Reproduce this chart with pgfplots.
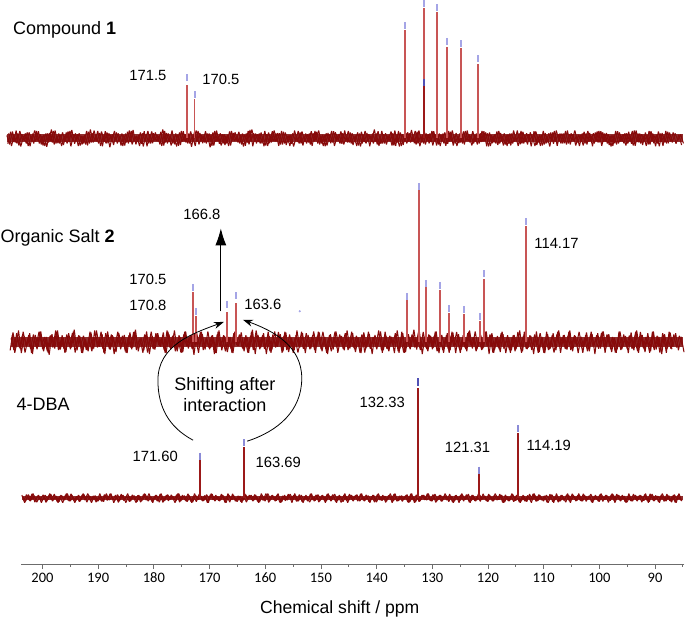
\documentclass[border=0pt]{standalone}
\usepackage{pgfplots}
\pgfplotsset{compat=1.18}
\usepackage{pgfplotstable}
\usepackage{fontspec}
\setmainfont{Liberation Sans}
\newfontfamily\tickfont{Carlito}
\usetikzlibrary{arrows.meta}

\definecolor{noisered}{RGB}{135,10,10}
\definecolor{peakred}{RGB}{200,85,85}
\definecolor{peakdark}{RGB}{155,25,25}
\definecolor{lav}{RGB}{165,165,230}
\definecolor{lavdark}{RGB}{80,80,180}

% baseline noise offsets (pt)
\pgfplotstableread{
a b c
3 -9 2
-6 11 -3
7 -6 1
-4 13 -2
5 -12 3
-8 7 -1
2 -4 2
-5 10 -3
6 -13 1
-3 8 -2
8 -5 3
-2 12 -2
4 -10 1
-7 6 -3
5 -14 2
-4 9 -1
9 -7 3
-6 13 -2
2 -8 2
-5 5 -3
6 -11 1
-3 10 -2
7 -6 3
-8 14 -1
4 -9 2
-2 7 -3
5 -12 1
-6 4 -2
3 -10 3
-7 11 -2
9 -7 2
-4 13 -1
2 -5 3
-5 9 -3
7 -13 1
-3 12 -2
6 -8 2
-9 6 -1
4 -11 3
-2 10 -2
5 -4 1
-7 8 -3
3 -12 2
-4 11 -2
8 -6 3
-6 14 -1
2 -10 1
-3 5 -3
6 -9 2
-8 12 -1
4 -13 3
-5 7 -2
7 -8 2
-2 10 -1
3 -5 1
-6 11 -3
9 -12 3
-4 9 -2
5 -6 1
-7 13 -2
2 -10 2
-8 6 -3
6 -11 3
-3 12 -1
4 -7 2
-5 8 -2
7 -14 1
-2 10 -3
8 -5 3
-6 9 -1
3 -8 1
-4 12 -2
5 -6 2
-9 5 -3
6 -12 3
-3 13 -1
2 -9 2
-7 7 -2
4 -11 1
-5 6 -3
7 -12 3
-2 9 -1
6 -4 1
-4 11 -2
3 -10 2
-8 6 -3
5 -7 3
-6 14 -1
9 -13 2
-3 8 -2
4 -6 2
-5 10 -2
2 -13 3
-7 7 -3
6 -8 1
-4 12 -1
8 -5 2
-3 9 -3
5 -10 3
-6 11 -2
6 -11 1
-4 5 -3
3 -9 2
-8 13 -1
2 -6 3
-5 10 -2
7 -12 1
-3 8 -2
4 -7 2
-6 12 -3
5 -5 3
-2 11 -2
8 -10 1
-5 6 -3
3 -13 2
-7 9 -1
4 -8 3
-4 12 -3
6 -4 1
-2 7 -2
7 -9 2
-6 13 -1
2 -7 3
-4 10 -2
5 -11 1
-3 5 -3
6 -12 2
-8 11 -2
3 -6 3
-5 9 -1
4 -13 1
-3 8 -2
9 -5 2
-6 12 -3
2 -9 3
-5 7 -2
5 -10 1
-2 6 -1
7 -12 2
-7 13 -3
3 -7 3
-8 10 -3
4 -11 1
-3 9 -2
6 -5 2
-4 14 -1
2 -8 3
-6 11 -2
8 -13 1
-4 6 -2
6 -10 2
-2 7 -2
5 -6 3
-7 12 -1
4 -12 1
-6 8 -3
3 -4 2
-5 10 -3
5 -9 3
-3 11 -1
8 -12 1
-5 9 -3
2 -8 2
-4 6 -2
7 -10 3
-2 13 -1
4 -7 1
-7 12 -2
3 -5 2
-6 8 -2
5 -6 3
-3 12 -1
6 -13 2
-8 10 -3
3 -8 1
-4 7 -2
7 -11 3
-5 9 -1
2 -12 2
-6 5 -3
4 -9 2
-7 8 -2
8 -5 1
-3 13 -3
5 -10 3
-5 11 -2
3 -6 2
-6 7 -1
6 -13 1
-2 12 -3
7 -11 1
-4 6 -3
3 -12 3
-6 9 -2
2 -7 2
-8 10 -1
6 -9 3
-3 13 -3
4 -4 2
-5 8 -2
5 -8 3
-6 13 -2
4 -10 2
-2 7 -1
8 -12 1
-4 6 -3
3 -5 2
-7 11 -2
5 -10 3
-3 9 -1
2 -13 2
-5 10 -1
7 -7 3
-4 12 -3
6 -6 2
-3 9 -2
4 -11 1
-8 5 -3
3 -8 3
-6 12 -2
6 -5 1
-3 7 -2
5 -12 2
-5 11 -1
2 -9 3
-7 13 -3
8 -6 2
-4 8 -2
4 -11 1
-2 10 -3
3 -10 3
-6 12 -1
5 -8 1
-8 6 -2
7 -13 2
-3 9 -3
2 -7 3
-5 11 -2
6 -5 0
-4 10 0
5 -9 0
-2 6 0
4 -11 0
-5 0 0
}\noise

\begin{document}
\begin{tikzpicture}
\begin{axis}[
  scale only axis, width=664pt, height=564pt,
  xmin=84.71, xmax=203.86, ymin=0, ymax=564,
  x dir=reverse,
  axis x line=bottom, axis y line=none,
  x axis line style={-, draw=gray!85!black, line width=1pt},
  xtick={90,100,...,200}, minor xtick={85,95,...,195},
  tick align=outside, major tick length=5pt, minor tick length=2.5pt,
  every tick/.style={gray!85!black, line width=0.8pt},
  xticklabel style={font=\tickfont\fontsize{14.5}{16}\selectfont, text=black},
  /pgf/number format/assume math mode=true,
  clip=false, unbounded coords=jump,
  noise/.style={noisered, line width=1.05pt, line join=bevel},
  core/.style={fill=noisered!92!black, draw=none, fill opacity=0.85},
]
% bounding frame
\path (axis cs:207.63,564) rectangle (axis cs:84.71,-54);

% ---------- Compound 1 (baseline 426)
\addplot[core] coordinates {(206.3,422) (84.9,422) (84.9,430) (206.3,430)} --cycle;
\addplot[noise] table[x expr={206.4-0.5*\coordindex}, y expr={\thisrow{a}+426}] {\noise};
\addplot[noise, skip coords between index={243}{244}] table[x expr={206.23-0.5*\coordindex}, y expr={0.6*\thisrow{b}+426}] {\noise};
\addplot[noise, skip coords between index={238}{244}] table[x expr={206.07-0.5*\coordindex}, y expr={2.5*\thisrow{c}+426}] {\noise};
\addplot[peakred, line width=1.8pt] coordinates {
 (174.02,426) (174.02,479) (174.02,nan)
 (172.69,426) (172.69,465) (172.69,nan)
 (134.83,426) (134.83,534) (134.83,nan)
 (131.55,426) (131.55,556) (131.55,nan)
 (129.09,426) (129.09,552) (129.09,nan)
 (127.36,426) (127.36,517) (127.36,nan)
 (124.78,426) (124.78,516) (124.78,nan)
 (121.86,426) (121.86,500)};
\addplot[peakdark, line width=1.8pt] coordinates {(131.55,426) (131.55,478)};
\addplot[only marks, mark=|, mark size=3.5pt, lav, mark options={line width=2pt}] coordinates {
 (174.02,486.5) (172.69,469.5) (134.83,538.5) (131.55,561) (129.09,557) (127.36,523) (124.78,520.5) (121.86,505.5)};
\addplot[only marks, mark=|, mark size=3.5pt, lavdark, mark options={line width=2pt}] coordinates {(131.55,482)};

% ---------- Organic salt 2 (baseline 222)
\addplot[core] coordinates {(205.7,217) (84.9,217) (84.9,227) (205.7,227)} --cycle;
\addplot[noise, skip coords between index={243}{244}] table[x expr={205.8-0.5*\coordindex}, y expr={0.9*\thisrow{b}+222}] {\noise};
\addplot[noise, skip coords between index={242}{244}] table[x expr={205.63-0.5*\coordindex}, y expr={1.3*\thisrow{a}+222}] {\noise};
\addplot[noise, skip coords between index={238}{244}] table[x expr={205.47-0.5*\coordindex}, y expr={3.5*\thisrow{c}+222}] {\noise};
\addplot[peakred, line width=1.8pt] coordinates {
 (172.94,222) (172.94,272) (172.94,nan)
 (172.46,222) (172.46,248) (172.46,nan)
 (166.89,222) (166.89,252) (166.89,nan)
 (165.28,222) (165.28,261) (165.28,nan)
 (134.54,222) (134.54,264) (134.54,nan)
 (132.32,222) (132.32,374) (132.32,nan)
 (131.06,222) (131.06,277) (131.06,nan)
 (128.67,222) (128.67,274) (128.67,nan)
 (126.93,222) (126.93,251) (126.93,nan)
 (124.36,222) (124.36,250) (124.36,nan)
 (121.37,222) (121.37,243) (121.37,nan)
 (120.65,222) (120.65,285) (120.65,nan)
 (113.19,222) (113.19,338)};
\addplot[only marks, mark=|, mark size=3.5pt, lav, mark options={line width=2pt}] coordinates {
 (172.94,277) (172.46,253) (166.89,260) (165.28,268.5) (134.54,268) (132.32,378) (131.06,281)
 (128.67,279) (126.93,256) (124.36,255) (121.37,248) (120.65,291) (113.19,342.5)};
\addplot[only marks, mark=*, mark size=0.8pt, lav] coordinates {(153.8,253)};

% ---------- 4-DBA (baseline 66)
\addplot[core] coordinates {(203.6,64) (84.9,64) (84.9,68) (203.6,68)} --cycle;
\addplot[noise, skip coords between index={238}{244}] table[x expr={203.7-0.5*\coordindex}, y expr={1.5*\thisrow{c}+66}] {\noise};
\addplot[noise, skip coords between index={237}{244}] table[x expr={203.53-0.5*\coordindex}, y expr={0.5*\thisrow{a}+66}] {\noise};
\addplot[noise, skip coords between index={237}{244}] table[x expr={203.37-0.5*\coordindex}, y expr={0.33*\thisrow{b}+66}] {\noise};
\addplot[peakdark, line width=2pt] coordinates {
 (171.68,66) (171.68,104) (171.68,nan)
 (163.79,66) (163.79,117) (163.79,nan)
 (132.57,66) (132.57,176) (132.57,nan)
 (121.68,66) (121.68,90) (121.68,nan)
 (114.62,66) (114.62,131)};
\addplot[only marks, mark=|, mark size=3.5pt, lav!70!lavdark, mark options={line width=2pt}] coordinates {
 (171.68,108) (163.79,121.5) (121.68,94) (114.62,135.5)};
\addplot[only marks, mark=|, mark size=4pt, lavdark, mark options={line width=2pt}] coordinates {(132.57,182)};

% ---------- annotations
\node[anchor=base west, inner sep=0, font=\fontsize{18}{20}\selectfont] at (axis cs:205.29,530) {Compound \textbf{1}};
\node[anchor=base west, inner sep=0, font=\fontsize{18}{20}\selectfont] at (axis cs:207.55,322) {Organic Salt \textbf{2}};
\node[anchor=base west, inner sep=0, font=\fontsize{18}{20}\selectfont] at (axis cs:204.67,154) {4-DBA};

\begin{scope}[every node/.style={anchor=base, inner sep=0, font=\fontsize{14.8}{16}\selectfont}]
\node at (axis cs:181.07,484) {171.5};
\node at (axis cs:167.97,480) {170.5};
\node at (axis cs:171.38,345) {166.8};
\node at (axis cs:181.07,280) {170.5};
\node at (axis cs:181.07,253.3) {170.8};
\node at (axis cs:160.43,254.7) {163.6};
\node at (axis cs:107.7,315.7) {114.17};
\node at (axis cs:179.76,103) {171.60};
\node at (axis cs:157.65,96.7) {163.69};
\node at (axis cs:139.0,156.7) {132.33};
\node at (axis cs:123.68,111.7) {121.31};
\node at (axis cs:109.08,114) {114.19};
\end{scope}
\node[anchor=base, inner sep=0, font=\fontsize{18}{20}\selectfont] at (axis cs:167.25,173.3) {Shifting after};
\node[anchor=base, inner sep=0, font=\fontsize{18}{20}\selectfont] at (axis cs:167.25,152.3) {interaction};

\draw[-{Latex[length=17pt,width=11pt]}, line width=1pt] (axis cs:167.97,253) -- (axis cs:167.97,336);
\draw[-{Stealth[length=10pt,width=7pt]}, line width=0.8pt] (axis cs:172.96,124) to[out=152,in=270] (axis cs:179.27,184) to[out=90,in=200] (axis cs:167.43,242.3);
\draw[-{Stealth[length=10pt,width=7pt]}, line width=0.8pt] (axis cs:163.23,123) to[out=18,in=270] (axis cs:153.44,186) to[out=90,in=340] (axis cs:164.0,244.5);

\node[anchor=base, inner sep=0, font=\fontsize{17.6}{20}\selectfont] at (axis cs:146.62,-49) {Chemical shift / ppm};
\end{axis}
\end{tikzpicture}
\end{document}
